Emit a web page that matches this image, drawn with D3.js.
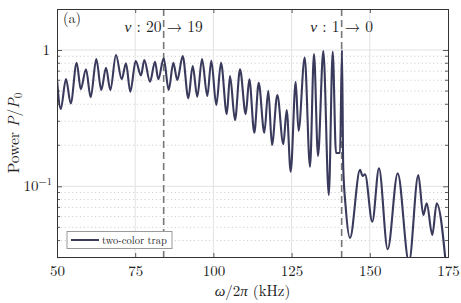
<!DOCTYPE html>
<html>
<head>
<meta charset="utf-8">
<script src="https://cdn.jsdelivr.net/npm/d3@7"></script>
<style>
  body { margin: 0; background: #fff; }
</style>
</head>
<body>
<div id="chart"></div>
<script>
// frequency (kHz) of each peak / trough of the trace
var freq = [50.0, 51.18, 52.88, 54.38, 56.30, 57.58, 59.27, 60.77, 62.56, 64.16,
  65.67, 67.04, 68.86, 70.68, 72.06, 73.43, 75.16, 76.85, 77.91, 79.73,
  81.33, 82.38, 84.11, 85.71, 87.18, 88.46, 90.19, 91.98, 93.38, 94.85,
  96.36, 98.05, 99.33, 100.93, 102.43, 104.29, 105.31, 106.91, 108.51, 110.33,
  111.48, 113.08, 114.48, 116.27, 117.55, 118.73, 120.43, 122.35, 123.43, 124.71,
  126.31, 127.21, 129.19, 130.88, 132.16, 133.44, 135.14, 136.89, 138.14, 139.20,
  140.48, 141.11, 141.5, 142.3, 143.67, 146.87, 147.73, 148.47, 150.80, 152.94,
  155.72, 158.92, 162.53, 165.51, 167.10, 168.19, 169.98, 171.39, 175.0];
// normalised power P/P0
var power = [0.610, 0.369, 0.613, 0.406, 0.807, 0.517, 0.722, 0.450, 0.859, 0.509,
  0.742, 0.509, 0.919, 0.610, 0.799, 0.494, 0.830, 0.650, 0.845, 0.585,
  0.821, 0.610, 0.869, 0.509, 0.807, 0.603, 0.904, 0.442, 0.763, 0.454,
  0.859, 0.460, 0.835, 0.395, 0.807, 0.339, 0.645, 0.306, 0.722, 0.339,
  0.610, 0.247, 0.575, 0.247, 0.503, 0.201, 0.468, 0.204, 0.363, 0.128,
  0.585, 0.255, 0.881, 0.139, 0.935, 0.167, 0.983, 0.0863, 0.972, 0.1755,
  0.1755, 1.0, 0.14, 0.07, 0.0418, 0.132, 0.119, 0.1225, 0.055, 0.1355,
  0.0345, 0.1245, 0.0278, 0.121, 0.0616, 0.075, 0.044, 0.075, 0.018];

var xTicks = [50, 75, 100, 125, 150, 175];
var yMajor = [0.1, 1];
var yMinor = [0.03, 0.04, 0.05, 0.06, 0.07, 0.08, 0.09, 0.2, 0.3, 0.4, 0.5, 0.6, 0.7, 0.8, 0.9];
var markers = [84.1, 141.0];
var markerLabels = ["20 \u2192 19", "1 \u2192 0"];
var seriesName = "two-color trap";

var FONT = "'Latin Modern Roman', 'Liberation Serif', serif";

var svgWidth = 461, svgHeight = 303;
var margin = { top: 9, right: 13, bottom: 46, left: 57 };
var width = svgWidth - margin.left - margin.right;
var height = svgHeight - margin.top - margin.bottom;

var svg = d3.select("#chart").append("svg")
  .attr("width", svgWidth)
  .attr("height", svgHeight)
  .style("font-family", FONT);

var g = svg.append("g")
  .attr("transform", `translate(${margin.left}, ${margin.top})`);

var x = d3.scaleLinear().domain([50, 175]).range([0, width]);
var y = d3.scaleLog().domain([0.0303, 2]).range([height, 0]);

// grid
g.selectAll(".minor").data(yMinor).enter().append("line")
  .attr("x1", 0).attr("x2", width)
  .attr("y1", d => y(d)).attr("y2", d => y(d))
  .attr("stroke", "#bdbdbd").attr("stroke-width", 0.7)
  .attr("stroke-dasharray", "1.2,2.6");

g.selectAll(".vgrid").data(xTicks.slice(1, -1)).enter().append("line")
  .attr("x1", d => x(d)).attr("x2", d => x(d))
  .attr("y1", 0).attr("y2", height)
  .attr("stroke", "#e2e2e2").attr("stroke-width", 1);

g.selectAll(".hgrid").data(yMajor).enter().append("line")
  .attr("x1", 0).attr("x2", width)
  .attr("y1", d => y(d)).attr("y2", d => y(d))
  .attr("stroke", "#e2e2e2").attr("stroke-width", 1);

// dashed transition markers
g.selectAll(".marker").data(markers).enter().append("line")
  .attr("x1", d => x(d)).attr("x2", d => x(d))
  .attr("y1", 0).attr("y2", height)
  .attr("stroke", "#777").attr("stroke-width", 1.6)
  .attr("stroke-dasharray", "7,4");

// trace
svg.append("clipPath").attr("id", "clip")
  .append("rect").attr("width", width).attr("height", height);

var pts = freq.map((f, i) => [f, power[i]]);
var line = d3.line()
  .x(d => x(d[0]))
  .y(d => y(d[1]))
  .curve(d3.curveMonotoneX);

g.append("path")
  .datum(pts)
  .attr("clip-path", "url(#clip)")
  .attr("fill", "none")
  .attr("stroke", "#3a3a5c")
  .attr("stroke-width", 2.1)
  .attr("d", line);

// axes (ticks inside)
var axB = g.append("g").attr("transform", `translate(0, ${height})`)
  .call(d3.axisBottom(x).tickValues(xTicks).tickSize(-4).tickPadding(8));
var axT = g.append("g")
  .call(d3.axisTop(x).tickValues(xTicks).tickSize(-4).tickFormat(""));
var axL = g.append("g")
  .call(d3.axisLeft(y).tickValues(yMajor).tickSize(-5).tickPadding(7)
    .tickFormat(d => d === 1 ? "1" : ""));
var axR = g.append("g").attr("transform", `translate(${width}, 0)`)
  .call(d3.axisRight(y).tickValues(yMajor).tickSize(-5).tickFormat(""));

[axL, axR].forEach(function(a, i) {
  a.selectAll(".minortick").data(yMinor).enter().append("line")
    .attr("x1", 0).attr("x2", i === 0 ? 3 : -3)
    .attr("y1", d => y(d)).attr("y2", d => y(d))
    .attr("stroke", "#333").attr("stroke-width", 0.8);
});

[axB, axT, axL, axR].forEach(function(a) {
  a.attr("font-family", FONT).attr("font-size", 15);
  a.select(".domain").attr("stroke", "#333").attr("stroke-width", 1);
  a.selectAll(".tick line").attr("stroke", "#333").attr("stroke-width", 0.8);
  a.selectAll("text").style("font-family", FONT)
    .style("font-size", "15px").attr("fill", "#222");
});

// 10^-1 label
var tl = g.append("text")
  .attr("x", -5).attr("y", y(0.1) + 5)
  .attr("text-anchor", "end")
  .style("font-family", FONT)
  .style("font-size", "15px").attr("fill", "#222");
tl.append("tspan").text("10");
tl.append("tspan").attr("dy", -6).style("font-size", "10.5px").text("\u22121");

// axis titles
var xt = svg.append("text")
  .attr("x", margin.left + width / 2)
  .attr("y", 296)
  .attr("text-anchor", "middle")
  .style("font-family", FONT)
  .style("font-size", "15px").attr("fill", "#222");
xt.append("tspan").style("font-style", "italic").text("\u03c9");
xt.append("tspan").text("/2");
xt.append("tspan").style("font-style", "italic").text("\u03c0");
xt.append("tspan").text(" (kHz)");

var yt = svg.append("text")
  .attr("transform", `translate(19, ${margin.top + height / 2}) rotate(-90)`)
  .attr("text-anchor", "middle")
  .style("font-family", FONT)
  .style("font-size", "15.5px").attr("fill", "#222");
yt.append("tspan").text("Power ");
yt.append("tspan").style("font-style", "italic").text("P");
yt.append("tspan").text("/");
yt.append("tspan").style("font-style", "italic").text("P");
yt.append("tspan").attr("dy", 3).style("font-size", "11px").text("0");

// annotations
g.append("text").attr("x", 6).attr("y", 14)
  .style("font-family", FONT)
  .style("font-size", "14px").attr("fill", "#222").text("(a)");

markers.forEach(function(m, i) {
  var t = g.append("text")
    .attr("x", x(m)).attr("y", 23)
    .attr("text-anchor", "middle")
    .style("font-family", FONT)
    .style("font-size", "15.5px").attr("fill", "#222");
  t.append("tspan").style("font-style", "italic").text("\u03bd");
  t.append("tspan").text(" : " + markerLabels[i]);
});

// legend
var lg = g.append("g").attr("transform", "translate(10, 222.5)");
lg.append("rect").attr("width", 105).attr("height", 17)
  .attr("fill", "#fff").attr("stroke", "#999").attr("stroke-width", 1);
lg.append("line").attr("x1", 4).attr("x2", 32).attr("y1", 8.5).attr("y2", 8.5)
  .attr("stroke", "#3a3a5c").attr("stroke-width", 2);
lg.append("text").attr("x", 35).attr("y", 12)
  .style("font-family", FONT)
  .style("font-size", "10.5px").attr("fill", "#222").text(seriesName);
</script>
</body>
</html>
